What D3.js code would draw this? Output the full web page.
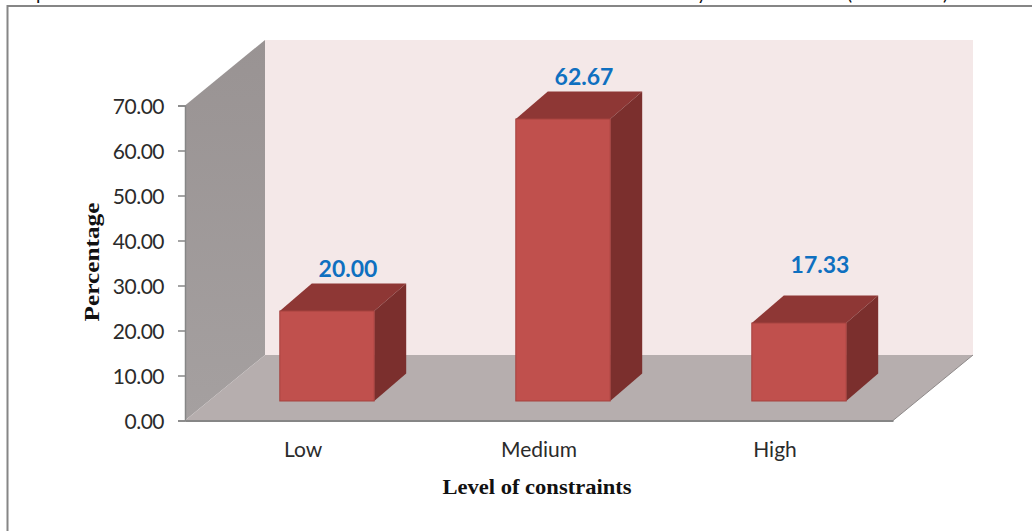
<!DOCTYPE html>
<html>
<head>
<meta charset="utf-8">
<script src="https://cdn.jsdelivr.net/npm/d3@7/dist/d3.min.js"></script>
<style>
  html, body { margin: 0; padding: 0; background: #fff; }
  svg { display: block; }
  text { font-family: Lato, sans-serif; }
</style>
</head>
<body>
<div id="chart"></div>
<script>
const categories = ['Low', 'Medium', 'High']
const values = [20.00, 62.67, 17.33]
const yTicks = [0, 10, 20, 30, 40, 50, 60, 70]

const width = 1032
const height = 531

// oblique offset of the back wall, and of one bar's depth
const wallDx = 80
const wallDy = 65.5
const barDx = 32
const barDy = 27.5
// bars stand a little behind the front edge of the floor
const insetDx = 24
const insetDy = 19.5

const x = d3.scaleBand()
  .domain(categories)
  .range([185, 893])
  .paddingInner(0.6)
  .paddingOuter(0.3)

const labelX = d3.scaleBand()
  .domain(categories)
  .range([185, 893])

const y = d3.scaleLinear()
  .domain([0, 70])
  .range([420.5, 105.5])

const svg = d3.select('#chart')
  .append('svg')
  .attr('width', width)
  .attr('height', height)

const defs = svg.append('defs')
const wallFill = defs.append('linearGradient')
  .attr('id', 'wall-fill')
  .attr('x1', 0).attr('y1', 0).attr('x2', 0).attr('y2', 1)
wallFill.append('stop').attr('offset', '0%').attr('stop-color', '#999393')
wallFill.append('stop').attr('offset', '100%').attr('stop-color', '#a5a0a0')

// caption of the page above, only its descenders are left in the crop
svg.append('g')
  .selectAll('text')
  .data([['p', 36], ['y', 697], ['(', 847], [')', 943]])
  .join('text')
  .attr('x', d => d[1])
  .attr('y', 0)
  .attr('font-size', 19)
  .attr('fill', '#111')
  .text(d => d[0])

// frame
svg.append('path')
  .attr('d', `M7.5,${height}V6H${width}`)
  .attr('fill', 'none')
  .attr('stroke', '#868686')
  .attr('stroke-width', 2)

const x0 = x.range()[0]
const x1 = x.range()[1]
const yBase = y(0)
const yTop = y(70)

const polygon = pts => pts.map(p => p.join(',')).join(' ')

// back wall
svg.append('polygon')
  .attr('points', polygon([
    [x0 + wallDx, yTop - wallDy],
    [x1 + wallDx, yTop - wallDy],
    [x1 + wallDx, yBase - wallDy],
    [x0 + wallDx, yBase - wallDy]
  ]))
  .attr('fill', '#f4e8e8')

// side wall
svg.append('polygon')
  .attr('points', polygon([
    [x0, yTop],
    [x0 + wallDx, yTop - wallDy],
    [x0 + wallDx, yBase - wallDy],
    [x0, yBase]
  ]))
  .attr('fill', 'url(#wall-fill)')

// floor
svg.append('polygon')
  .attr('points', polygon([
    [x0, yBase],
    [x0 + wallDx, yBase - wallDy],
    [x1 + wallDx, yBase - wallDy],
    [x1, yBase]
  ]))
  .attr('fill', '#b6aeae')

svg.append('line')
  .attr('x1', x1).attr('y1', yBase)
  .attr('x2', x1 + wallDx).attr('y2', yBase - wallDy)
  .attr('stroke', '#8f8a8a')
  .attr('stroke-width', 1)

const bars = svg.append('g')
  .selectAll('g')
  .data(categories.map((c, i) => ({ category: c, value: values[i] })))
  .join('g')
  .attr('transform', `translate(${insetDx},${-insetDy})`)

bars.append('polygon')
  .attr('points', d => {
    const l = x(d.category)
    const r = l + x.bandwidth()
    const t = y(d.value)
    return polygon([[l, t], [l + barDx, t - barDy], [r + barDx, t - barDy], [r, t]])
  })
  .attr('fill', '#8e3735')

bars.append('polygon')
  .attr('points', d => {
    const r = x(d.category) + x.bandwidth()
    const t = y(d.value)
    return polygon([[r, t], [r + barDx, t - barDy], [r + barDx, yBase - barDy], [r, yBase]])
  })
  .attr('fill', '#7b2f2d')

bars.append('rect')
  .attr('x', d => x(d.category))
  .attr('y', d => y(d.value))
  .attr('width', x.bandwidth())
  .attr('height', d => yBase - y(d.value))
  .attr('fill', '#c0504d')
  .attr('stroke', '#a5423f')
  .attr('stroke-width', 1)

// the High label sits higher above its bar than the other two
bars.append('text')
  .attr('x', d => x(d.category) + x.bandwidth() / 2 + barDx / 2 + 5)
  .attr('y', d => y(d.value) - (d.category === 'High' ? 50 : 34))
  .attr('text-anchor', 'middle')
  .attr('font-size', 23)
  .attr('font-weight', 700)
  .attr('fill', '#0f70c0')
  .text(d => d3.format('.2f')(d.value))

const yAxis = svg.append('g')
  .attr('transform', `translate(${x0},0)`)
  .call(d3.axisLeft(y)
    .tickValues(yTicks)
    .tickFormat(d3.format('.2f'))
    .tickSize(7)
    .tickPadding(14))
yAxis.select('.domain').attr('stroke', '#868686').attr('stroke-width', 1.5)
yAxis.selectAll('.tick line').attr('stroke', '#868686').attr('stroke-width', 1.5)
yAxis.selectAll('.tick text')
  .attr('font-size', 21)
  .attr('dy', '0.4em')
  .attr('letter-spacing', '-0.5px')
  .attr('font-family', 'Lato, sans-serif')
  .attr('fill', '#2b2b2b')

const xAxis = svg.append('g')
  .attr('transform', `translate(0,${yBase})`)
  .call(d3.axisBottom(labelX).tickSize(0).tickPadding(22))
xAxis.select('.domain').attr('stroke', '#868686').attr('stroke-width', 2)
xAxis.selectAll('.tick text')
  .attr('font-size', 21)
  .attr('font-family', 'Lato, sans-serif')
  .attr('fill', '#2b2b2b')

svg.append('text')
  .attr('x', 537)
  .attr('y', 494)
  .attr('text-anchor', 'middle')
  .attr('font-size', 21)
  .attr('font-weight', 700)
  .attr('textLength', 189)
  .attr('lengthAdjust', 'spacingAndGlyphs')
  .style('font-family', '"Liberation Serif", serif')
  .attr('fill', '#111')
  .text('Level of constraints')

svg.append('text')
  .attr('transform', 'translate(99,262) rotate(-90)')
  .attr('text-anchor', 'middle')
  .attr('font-size', 22)
  .attr('font-weight', 700)
  .attr('textLength', 119)
  .attr('lengthAdjust', 'spacingAndGlyphs')
  .style('font-family', '"Liberation Serif", serif')
  .attr('fill', '#111')
  .text('Percentage')
</script>
</body>
</html>
